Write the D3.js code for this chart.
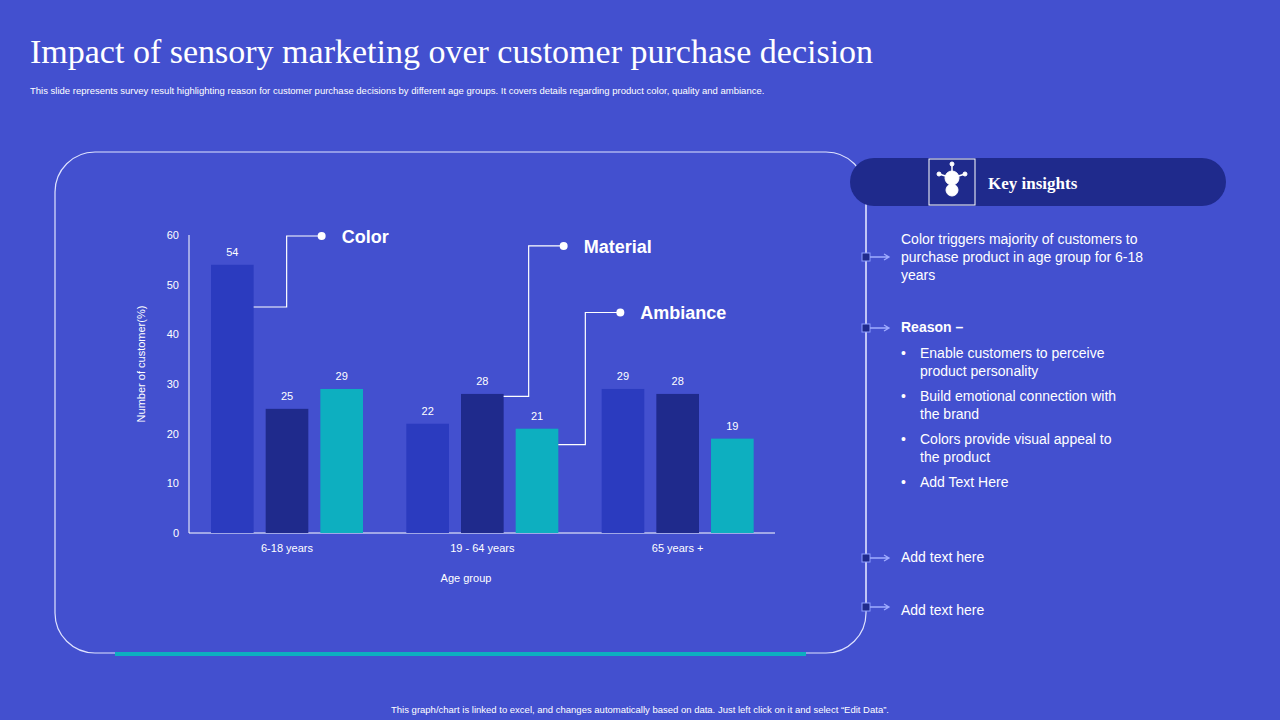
<!DOCTYPE html>
<html><head><meta charset="utf-8">
<script src="https://cdn.jsdelivr.net/npm/d3@7"></script>
<style>body{margin:0;background:#4350cf}svg{display:block;font-family:Arial,"Liberation Sans",sans-serif}</style>
</head><body><svg id="c" width="1280" height="720"></svg>
<script>
var categories = ['6-18 years', '19 - 64 years', '65 years +'];
var series = ['Color', 'Material', 'Ambiance'];
var colorValues = [54, 22, 29];
var materialValues = [25, 28, 28];
var ambianceValues = [29, 21, 19];
var yTicks = [0, 10, 20, 30, 40, 50, 60];
var insights = ['Enable customers to perceive|product personality', 'Build emotional connection with|the brand', 'Colors provide visual appeal to|the product', 'Add Text Here'];

var svg = d3.select('#c');
var colors = ['#2b3bbf', '#1f2a8c', '#0dafc0'];

svg.append('text').attr('x', 30).attr('y', 63).attr('fill', '#fff').attr('font-family', 'Liberation Serif,serif').attr('font-size', 34).text('Impact of sensory marketing over customer purchase decision');
svg.append('text').attr('x', 30).attr('y', 94).attr('fill', '#fff').attr('font-size', 9.5).text('This slide represents survey result highlighting reason for customer purchase decisions by different age groups. It covers details regarding product color, quality and ambiance.');
svg.append('text').attr('x', 640).attr('y', 713).attr('text-anchor', 'middle').attr('fill', '#fff').attr('font-size', 9.5).text('This graph/chart is linked to excel, and changes automatically based on data. Just left click on it and select \u201cEdit Data\u201d.');

// panel
svg.append('rect').attr('x', 55).attr('y', 152).attr('width', 811).attr('height', 501).attr('rx', 40).attr('fill', 'none').attr('stroke', '#dfe3ff').attr('stroke-width', 1.2);
svg.append('rect').attr('x', 115).attr('y', 652).attr('width', 691).attr('height', 4).attr('fill', '#0dafc0');

var y = d3.scaleLinear().domain([0, 60]).range([533, 235]);
var x0 = d3.scaleBand().domain(categories).range([189, 775]);
var x1 = d3.scaleBand().domain(series).range([22, 174]).paddingInner(0.22);

var g = svg.append('g');
g.append('line').attr('x1', 189).attr('x2', 189).attr('y1', 235).attr('y2', 533).attr('stroke', '#fff');
g.append('line').attr('x1', 189).attr('x2', 775).attr('y1', 533).attr('y2', 533).attr('stroke', '#fff');
g.selectAll('.yt').data(yTicks).enter().append('text').attr('x', 179).attr('y', function(d) { return y(d) + 4; }).attr('text-anchor', 'end').attr('fill', '#fff').attr('font-size', 11).text(function(d) { return d; });
g.selectAll('.xt').data(categories).enter().append('text').attr('x', function(d) { return x0(d) + 98; }).attr('y', 552).attr('text-anchor', 'middle').attr('fill', '#fff').attr('font-size', 11).text(function(d) { return d; });
g.append('text').attr('x', 466).attr('y', 582).attr('text-anchor', 'middle').attr('fill', '#fff').attr('font-size', 11).text('Age group');
g.append('text').attr('transform', 'translate(145,364) rotate(-90)').attr('text-anchor', 'middle').attr('fill', '#fff').attr('font-size', 11).text('Number of customer(%)');

var all = [colorValues, materialValues, ambianceValues];
var rows = [];
categories.forEach(function(c, i) { series.forEach(function(s, j) { rows.push({c: c, s: s, j: j, v: all[j][i]}); }); });
g.selectAll('.bar').data(rows).enter().append('rect')
  .attr('x', function(d) { return x0(d.c) + x1(d.s); }).attr('width', x1.bandwidth())
  .attr('y', function(d) { return y(d.v); }).attr('height', function(d) { return 533 - y(d.v); })
  .attr('fill', function(d) { return colors[d.j]; });
g.selectAll('.lbl').data(rows).enter().append('text')
  .attr('x', function(d) { return x0(d.c) + x1(d.s) + x1.bandwidth() / 2; }).attr('y', function(d) { return y(d.v) - 9; })
  .attr('text-anchor', 'middle').attr('fill', '#fff').attr('font-size', 11).text(function(d) { return d.v; });

// callouts: [category, series, anchor value, elbow offset, label value]
var callouts = [[categories[0], 'Color', 45.5, 33, 59.8], [categories[1], 'Material', 27.5, 25, 57.8], [categories[1], 'Ambiance', 17.8, 27, 44.4]];
callouts.forEach(function(c) {
  var xs = x0(c[0]) + x1(c[1]) + x1.bandwidth(), ex = xs + c[3], ty = y(c[4]);
  g.append('path').attr('d', 'M' + xs + ',' + y(c[2]) + 'H' + ex + 'V' + ty + 'H' + (ex + 35)).attr('fill', 'none').attr('stroke', '#fff').attr('stroke-width', 1.2);
  g.append('circle').attr('cx', ex + 35).attr('cy', ty).attr('r', 4).attr('fill', '#fff');
  g.append('text').attr('x', ex + 55).attr('y', ty + 7).attr('fill', '#fff').attr('font-size', 18).attr('font-weight', 'bold').text(c[1]);
});

// key insights
svg.append('line').attr('x1', 866).attr('x2', 866).attr('y1', 200).attr('y2', 610).attr('stroke', '#dfe3ff').attr('stroke-width', 1);
svg.append('rect').attr('x', 850).attr('y', 158).attr('width', 376).attr('height', 48).attr('rx', 24).attr('fill', '#1f2a8c');
svg.append('rect').attr('x', 929).attr('y', 159).attr('width', 46).attr('height', 46).attr('fill', '#1f2a8c').attr('stroke', '#fff');
var ic = svg.append('g').attr('transform', 'translate(952,182)').attr('fill', '#fff').attr('stroke', '#fff');
ic.append('circle').attr('cx', 0).attr('cy', -4).attr('r', 7);
ic.append('circle').attr('cx', 0).attr('cy', 8).attr('r', 6);
[[0, -18], [-13, -8], [13, -8]].forEach(function(p) {
  ic.append('line').attr('x1', 0).attr('y1', -4).attr('x2', p[0]).attr('y2', p[1]).attr('stroke-width', 1.5);
  ic.append('circle').attr('cx', p[0]).attr('cy', p[1]).attr('r', 2);
});
svg.append('text').attr('x', 988).attr('y', 189).attr('fill', '#fff').attr('font-family', 'Liberation Serif,serif').attr('font-weight', 'bold').attr('font-size', 17).text('Key insights');

[257, 328, 558, 607].forEach(function(my) {
  svg.append('rect').attr('x', 862).attr('y', my - 4).attr('width', 8).attr('height', 8).attr('fill', '#1f2a8c').attr('stroke', '#8c9cff');
  svg.append('path').attr('d', 'M870,' + my + 'H888M884,' + (my - 3) + 'L889,' + my + 'L884,' + (my + 3)).attr('fill', 'none').attr('stroke', '#a0acff').attr('stroke-width', 1.3);
});
function lines(xp, yp, arr, bold) {
  arr.forEach(function(t, i) { svg.append('text').attr('x', xp).attr('y', yp + i * 18).attr('fill', '#fff').attr('font-size', 14).attr('font-weight', bold ? 'bold' : 'normal').text(t); });
}
lines(901, 244, ['Color triggers majority of customers to', 'purchase product in age group for 6-18', 'years']);
lines(901, 332, ['Reason \u2013'], true);
var iy = 358;
insights.forEach(function(s) {
  var parts = s.split('|');
  svg.append('text').attr('x', 901).attr('y', iy).attr('fill', '#fff').attr('font-size', 14).text('\u2022');
  lines(920, iy, parts);
  iy += parts.length > 1 ? 43 : 18;
});
lines(901, 562, ['Add text here']);
lines(901, 615, ['Add text here']);
</script></body></html>
